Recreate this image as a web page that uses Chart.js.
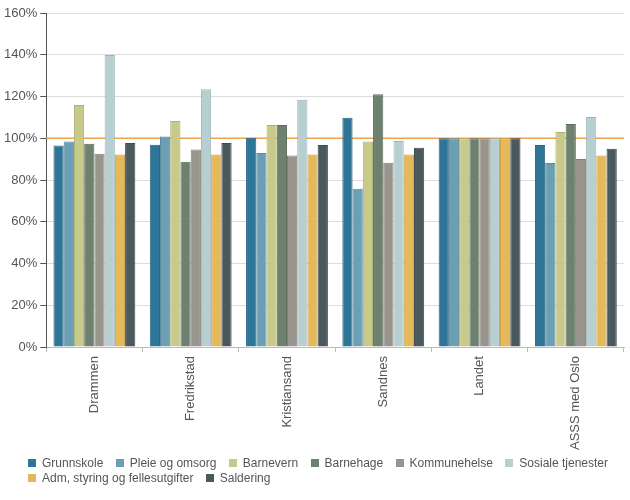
<!DOCTYPE html>
<html>
<head>
<meta charset="utf-8">
<script src="https://cdn.jsdelivr.net/npm/chart.js@4"></script>
<style>
	body { margin: 0; background: #fff; }
	#wrap { position: relative; width: 630px; height: 500px; }
	#legend {
		position: absolute; left: 28px; top: 456px; width: 600px;
		font: 12px "Liberation Sans", Arial, sans-serif; color: #555;
		line-height: 15px;
	}
	#legend span.item { display: inline-block; margin-right: 9px; white-space: nowrap; }
	#legend span.box { display: inline-block; width: 8px; height: 8px; margin-right: 6px; vertical-align: 0px; }
</style>
</head>
<body>
<div id="wrap">
	<canvas id="costChart" width="630" height="500"></canvas>
	<div id="legend"></div>
</div>
<script>
// kommuner / grupper
const categories = ['Drammen', 'Fredrikstad', 'Kristiansand', 'Sandnes', 'Landet', 'ASSS med Oslo'];

// tjenesteområder, verdier i prosent av landsgjennomsnittet
const grunnskole   = [96.5, 96.9, 100.3, 109.8, 100, 96.8];
const pleieOmsorg  = [98.4, 100.8, 93.0, 75.8, 100, 88.2];
const barnevern    = [115.9, 108.3, 106.3, 98.4, 100, 103.0];
const barnehage    = [97.4, 88.8, 106.3, 121.1, 100, 106.8];
const kommunehelse = [92.6, 94.6, 91.7, 88.3, 100, 90.1];
const sosiale      = [139.9, 123.5, 118.4, 98.7, 100, 110.2];
const adm          = [92.2, 92.2, 92.2, 92.2, 100, 91.7];
const saldering    = [97.7, 97.7, 96.8, 95.5, 100, 95.0];

const yTicks = [0, 20, 40, 60, 80, 100, 120, 140, 160];
const referenceLevel = 100;

const series = [
	{ label: 'Grunnskole', data: grunnskole, color: '#2f7598', border: '#286684' },
	{ label: 'Pleie og omsorg', data: pleieOmsorg, color: '#6b9fb4', border: '#5b8a9d' },
	{ label: 'Barnevern', data: barnevern, color: '#c8ca8b', border: '#adaf74' },
	{ label: 'Barnehage', data: barnehage, color: '#6e806e', border: '#5c6c5c' },
	{ label: 'Kommunehelse', data: kommunehelse, color: '#9a958c', border: '#858077' },
	{ label: 'Sosiale tjenester', data: sosiale, color: '#b7cfd1', border: '#9db5b7' },
	{ label: 'Adm, styring og fellesutgifter', data: adm, color: '#e5b85a', border: '#c99f48' },
	{ label: 'Saldering', data: saldering, color: '#4a595e', border: '#3d4a4e' }
];

// orange line at 100%, drawn behind the bars
const refLine = {
	id: 'refLine',
	beforeDatasetsDraw(chart) {
		const c = chart.ctx;
		const y = chart.scales.y.getPixelForValue(referenceLevel);
		c.save();
		c.strokeStyle = '#f2a24c';
		c.lineWidth = 1.5;
		c.beginPath();
		c.moveTo(chart.chartArea.left, y);
		c.lineTo(chart.chartArea.right, y);
		c.stroke();
		c.restore();
	}
};

Chart.defaults.font.family = '"Liberation Sans", Arial, sans-serif';
Chart.defaults.font.size = 13;
Chart.defaults.color = '#555';

const ctx = document.getElementById('costChart').getContext('2d');
const chart = new Chart(ctx, {
	type: 'bar',
	data: {
		labels: categories,
		datasets: series.map(s => ({
			label: s.label,
			data: s.data,
			backgroundColor: s.color,
			borderColor: s.border,
			borderWidth: 1,
			categoryPercentage: 0.85,
			barPercentage: 1
		}))
	},
	options: {
		responsive: false,
		animation: false,
		layout: {
			padding: { top: 13, right: 6, left: 1, bottom: 46 }
		},
		plugins: {
			legend: { display: false },
			tooltip: { enabled: false }
		},
		scales: {
			x: {
				border: { color: '#bbb' },
				grid: {
					drawOnChartArea: false,
					tickLength: 5,
					tickColor: '#bbb'
				},
				ticks: {
					minRotation: 90,
					maxRotation: 90,
					padding: 4,
					color: '#555'
				}
			},
			y: {
				min: 0,
				max: 160,
				border: { color: '#555' },
				grid: {
					color: '#ddd',
					tickLength: 6,
					tickColor: '#555'
				},
				afterBuildTicks(scale) {
					scale.ticks = yTicks.map(v => ({ value: v }));
				},
				ticks: {
					padding: 3,
					color: '#555',
					callback: v => v + '%'
				}
			}
		}
	},
	plugins: [refLine]
});

// html legend built from the datasets
const legend = document.getElementById('legend');
chart.data.datasets.forEach(ds => {
	const item = document.createElement('span');
	item.className = 'item';
	const box = document.createElement('span');
	box.className = 'box';
	box.style.background = ds.backgroundColor;
	item.appendChild(box);
	item.appendChild(document.createTextNode(ds.label));
	legend.appendChild(item);
	legend.appendChild(document.createTextNode(' '));
});
</script>
</body>
</html>
